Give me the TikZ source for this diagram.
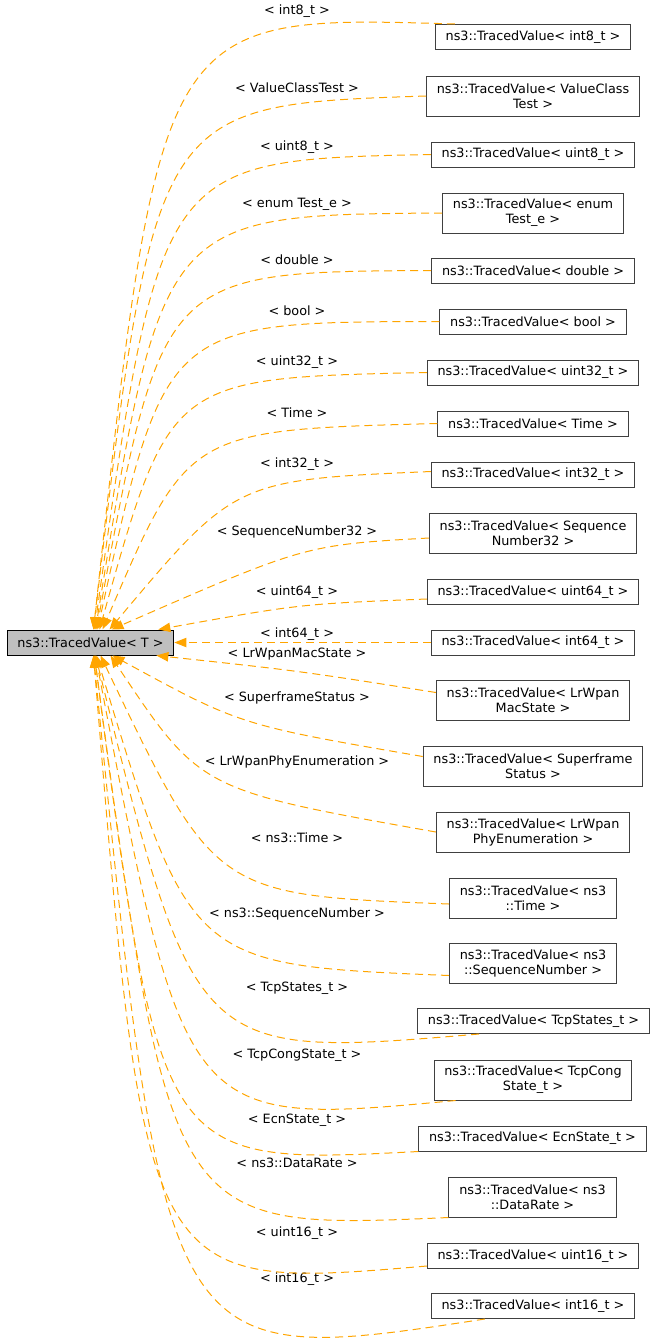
\documentclass[tikz,border=0pt]{standalone}
\usepackage{fontspec}
\usepackage{xcolor}
\usepackage{tikz}
\usetikzlibrary{calc, arrows.meta}
\newfontfamily\dvsans{DejaVu Sans}
\definecolor{tvOrange}{RGB}{255, 165, 0}
\definecolor{tvGray}{RGB}{64, 64, 64}
\definecolor{tvBase}{RGB}{191, 191, 191}
\tikzset{
    base/.style={
        font=\dvsans\fontsize{9.6}{11.25}\selectfont,
        align=center
    },
    cls/.style={
        base,
        rectangle,
        draw=tvGray,
        line width=0.75pt,
        fill=white,
        text=black,
        inner xsep=7.7pt,
        inner ysep=0pt,
        minimum height=18.75pt
    },
    cls2/.style={
        cls,
        minimum height=30pt
    },
    root/.style={
        cls,
        draw=black,
        fill=tvBase
    },
    inherit/.style={
        -{Triangle[length=9pt, width=7pt]},
        draw=tvOrange,
        fill=none,
        line width=0.75pt,
        dash pattern=on 6pt off 3.75pt
    },
    tpl/.style={
        base,
        inner sep=0pt,
        text=black
    }
}

\begin{document}
\begin{tikzpicture}[x=0.75pt, y=-0.75pt]
  \useasboundingbox (0,0) rectangle (656,1343);

  % base class
  \node[root] (tv) at (90.5,642.5) {ns3::TracedValue< T >};

  % instantiations
  \node[cls]  (i8)     at (533,37)     {ns3::TracedValue< int8\_t >};
  \node[cls2] (vct)    at (533,96)     {ns3::TracedValue< ValueClass\\Test >};
  \node[cls]  (u8)     at (533,154.5)  {ns3::TracedValue< uint8\_t >};
  \node[cls2] (enm)    at (533,213)    {ns3::TracedValue< enum\\Test\_e >};
  \node[cls]  (dbl)    at (533,270.5)  {ns3::TracedValue< double >};
  \node[cls]  (bool)   at (533,321.5)  {ns3::TracedValue< bool >};
  \node[cls]  (u32)    at (533,372.5)  {ns3::TracedValue< uint32\_t >};
  \node[cls]  (time)   at (533,423.5)  {ns3::TracedValue< Time >};
  \node[cls]  (i32)    at (533,474.5)  {ns3::TracedValue< int32\_t >};
  \node[cls2] (seq32)  at (533,533)    {ns3::TracedValue< Sequence\\Number32 >};
  \node[cls]  (u64)    at (533,592)    {ns3::TracedValue< uint64\_t >};
  \node[cls]  (i64)    at (533,642.5)  {ns3::TracedValue< int64\_t >};
  \node[cls2] (mac)    at (533,700.5)  {ns3::TracedValue< LrWpan\\MacState >};
  \node[cls2] (sfs)    at (533,766.5)  {ns3::TracedValue< Superframe\\Status >};
  \node[cls2] (phy)    at (533,832)    {ns3::TracedValue< LrWpan\\PhyEnumeration >};
  \node[cls2] (nstime) at (533,898)    {ns3::TracedValue< ns3\\::Time >};
  \node[cls2] (seqnum) at (533,963.5)  {ns3::TracedValue< ns3\\::SequenceNumber >};
  \node[cls]  (tcpst)  at (533.5,1021) {ns3::TracedValue< TcpStates\_t >};
  \node[cls2] (cong)   at (533,1080)   {ns3::TracedValue< TcpCong\\State\_t >};
  \node[cls]  (ecn)    at (532.5,1138.5) {ns3::TracedValue< EcnState\_t >};
  \node[cls2] (rate)   at (532.5,1197) {ns3::TracedValue< ns3\\::DataRate >};
  \node[cls]  (u16)    at (533,1256)   {ns3::TracedValue< uint16\_t >};
  \node[cls]  (i16)    at (533,1306)   {ns3::TracedValue< int16\_t >};

  % template arguments
  \node[tpl] (li8)     at (297,11)   {< int8\_t >};
  \node[tpl] (lvct)    at (297,88)   {< ValueClassTest >};
  \node[tpl] (lu8)     at (297,147)  {< uint8\_t >};
  \node[tpl] (lenm)    at (297,204)  {< enum Test\_e >};
  \node[tpl] (ldbl)    at (297,260)  {< double >};
  \node[tpl] (lbool)   at (297,311)  {< bool >};
  \node[tpl] (lu32)    at (297,362)  {< uint32\_t >};
  \node[tpl] (ltime)   at (297,413)  {< Time >};
  \node[tpl] (li32)    at (297,464)  {< int32\_t >};
  \node[tpl] (lseq32)  at (297,532)  {< SequenceNumber32 >};
  \node[tpl] (lu64)    at (297,592)  {< uint64\_t >};
  \node[tpl] (li64)    at (297,634)  {< int64\_t >};
  \node[tpl] (lmac)    at (297,654)  {< LrWpanMacState >};
  \node[tpl] (lsfs)    at (297,698)  {< SuperframeStatus >};
  \node[tpl] (lphy)    at (297,762)  {< LrWpanPhyEnumeration >};
  \node[tpl] (lnstime) at (297,838)  {< ns3::Time >};
  \node[tpl] (lseqnum) at (297,914)  {< ns3::SequenceNumber >};
  \node[tpl] (ltcpst)  at (297,988)  {< TcpStates\_t >};
  \node[tpl] (lcong)   at (297,1055) {< TcpCongState\_t >};
  \node[tpl] (lecn)    at (297,1120) {< EcnState\_t >};
  \node[tpl] (lrate)   at (297,1163) {< ns3::DataRate >};
  \node[tpl] (lu16)    at (297,1233) {< uint16\_t >};
  \node[tpl] (li16)    at (297,1279) {< int16\_t >};

  % inheritance, upper half
  \draw[inherit] ($(i8.north west)+(20,0)$) .. controls (160,15) .. ($(tv.north)+(3,0)$);
  \draw[inherit] (vct.west) .. controls (155,105) .. ($(tv.north)+(3,0)$);
  \draw[inherit] (u8.west) .. controls (160,160) .. ($(tv.north)+(4,0)$);
  \draw[inherit] (enm.west) .. controls (162,215) .. ($(tv.north)+(5,0)$);
  \draw[inherit] (dbl.west) .. controls (162,272) .. ($(tv.north)+(6,0)$);
  \draw[inherit] (bool.west) .. controls (165,322) .. ($(tv.north)+(7,0)$);
  \draw[inherit] (u32.west) .. controls (170,378) .. ($(tv.north)+(9,0)$);
  \draw[inherit] (time.west) .. controls (188,430) .. ($(tv.north)+(12,0)$);
  \draw[inherit] ($(i32.west)+(0,-3)$) .. controls (235,480) .. ($(tv.north)+(19,0)$);
  \draw[inherit] ($(seq32.west)+(0,5)$) .. controls (305,545) .. ($(tv.north)+(21,0)$);
  \draw[inherit] ($(u64.west)+(0,7)$) .. controls (300,604) .. ($(tv.north east)+(-16,0)$);
  \draw[inherit] (i64.west) -- (tv.east);

  % inheritance, lower half
  \draw[inherit] ($(mac.west)+(0,-8)$) .. controls (300,671) .. ($(tv.south east)+(-18,0)$);
  \draw[inherit] ($(sfs.west)+(0,-10)$) .. controls (240,725) .. ($(tv.south)+(22,0)$);
  \draw[inherit] (phy.west) .. controls (200,790) .. ($(tv.south)+(20,0)$);
  \draw[inherit] ($(nstime.west)+(0,6)$) .. controls (215,895) .. ($(tv.south)+(10,0)$);
  \draw[inherit] ($(seqnum.west)+(0,12)$) .. controls (190,965) .. ($(tv.south)+(6,0)$);
  \draw[inherit] ($(tcpst.south west)+(62,0)$) .. controls (195,1058) .. ($(tv.south)+(5,0)$);
  \draw[inherit] ($(cong.south west)+(22,0)$) .. controls (185,1126) .. ($(tv.south)+(5,0)$);
  \draw[inherit] (ecn.south west) .. controls (160,1165) .. ($(tv.south)+(4,0)$);
  \draw[inherit] (rate.south west) .. controls (170,1230) .. ($(tv.south)+(4,0)$);
  \draw[inherit] ($(u16.west)+(0,10)$) .. controls (145,1290) .. ($(tv.south)+(3,0)$);
  \draw[inherit] ($(i16.south west)+(54,0)$) .. controls (165,1368) .. ($(tv.south)+(3,0)$);
\end{tikzpicture}
\end{document}
